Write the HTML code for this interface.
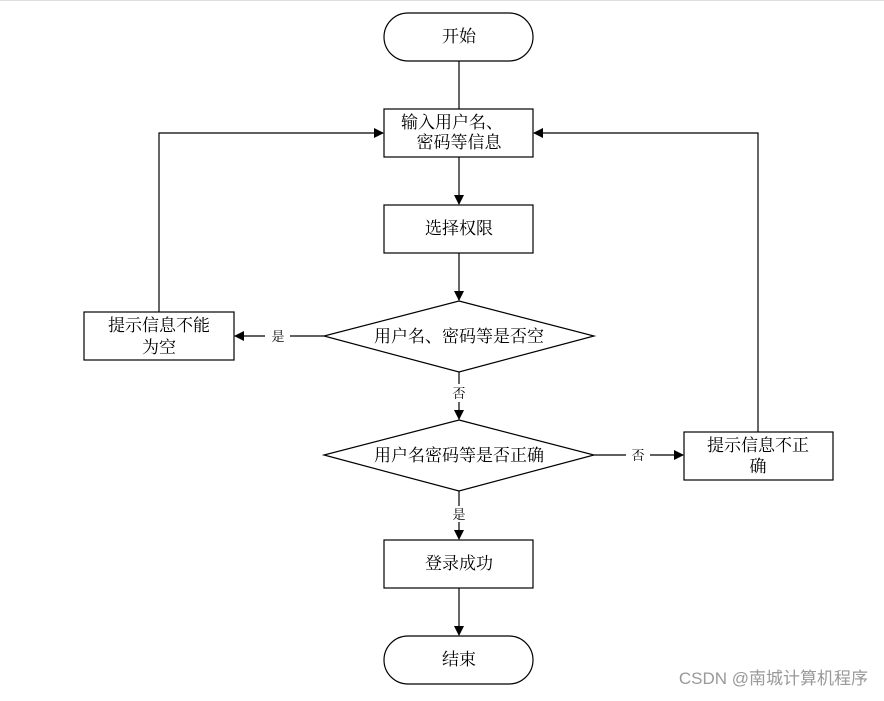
<!DOCTYPE html>
<html><head><meta charset="utf-8"><style>
body{margin:0;background:#fff}
svg text{font-family:"Liberation Serif","Noto Serif CJK SC","Noto Sans CJK SC",serif;fill:#000}
</style></head><body>
<svg width="884" height="696" viewBox="0 0 884 696" xmlns="http://www.w3.org/2000/svg">
<defs><marker id="a" markerWidth="10" markerHeight="10" refX="9" refY="5" orient="auto" markerUnits="userSpaceOnUse"><path d="M0,0 L10,5 L0,10 z" fill="#000"/></marker></defs>
<line x1="0" y1="0.5" x2="884" y2="0.5" stroke="#ddd"/>
<g stroke="#000" stroke-width="1.2" fill="none">
<rect x="384" y="13" width="149" height="48" rx="24"/>
<rect x="384" y="109" width="149" height="48"/>
<rect x="384" y="205" width="149" height="48"/>
<polygon points="459,301 594,336 459,372 324,336"/>
<rect x="84" y="312" width="150" height="48"/>
<polygon points="459,420 594,455 459,491 324,455"/>
<rect x="684" y="432" width="149" height="48"/>
<rect x="384" y="540" width="149" height="48"/>
<rect x="384" y="636" width="149" height="48" rx="24"/>
<line x1="459" y1="61" x2="459" y2="109"/>
<line x1="459" y1="157" x2="459" y2="204" marker-end="url(#a)"/>
<line x1="459" y1="253" x2="459" y2="300" marker-end="url(#a)"/>
<line x1="324" y1="336" x2="290" y2="336"/>
<line x1="265" y1="336" x2="235" y2="336" marker-end="url(#a)"/>
<line x1="459" y1="372" x2="459" y2="384"/>
<line x1="459" y1="402" x2="459" y2="419" marker-end="url(#a)"/>
<line x1="594" y1="455" x2="626" y2="455"/>
<line x1="650" y1="455" x2="683" y2="455" marker-end="url(#a)"/>
<line x1="459" y1="491" x2="459" y2="506"/>
<line x1="459" y1="522" x2="459" y2="539" marker-end="url(#a)"/>
<line x1="459" y1="588" x2="459" y2="635" marker-end="url(#a)"/>
<polyline points="159,312 159,133 383,133" marker-end="url(#a)"/>
<polyline points="758,432 758,133 534,133" marker-end="url(#a)"/>
</g>
<g font-size="17" text-anchor="middle">
<text x="459" y="42">开始</text>
<text x="452" y="128">输入用户名、</text>
<text x="459" y="148">密码等信息</text>
<text x="459" y="234">选择权限</text>
<text x="459" y="342">用户名、密码等是否空</text>
<text x="159" y="331">提示信息不能</text>
<text x="159" y="353">为空</text>
<text x="459" y="461">用户名密码等是否正确</text>
<text x="758" y="451">提示信息不正</text>
<text x="758" y="472">确</text>
<text x="459" y="569">登录成功</text>
<text x="459" y="665">结束</text>
</g>
<g font-size="13" text-anchor="middle">
<text x="278" y="341">是</text>
<text x="459" y="398">否</text>
<text x="638" y="460">否</text>
<text x="459" y="519">是</text>
</g>
<text x="868" y="684" font-size="17" text-anchor="end" style="fill:#999;font-family:'Liberation Sans','Noto Sans CJK SC',sans-serif">CSDN @南城计算机程序</text>
</svg>
</body></html>
